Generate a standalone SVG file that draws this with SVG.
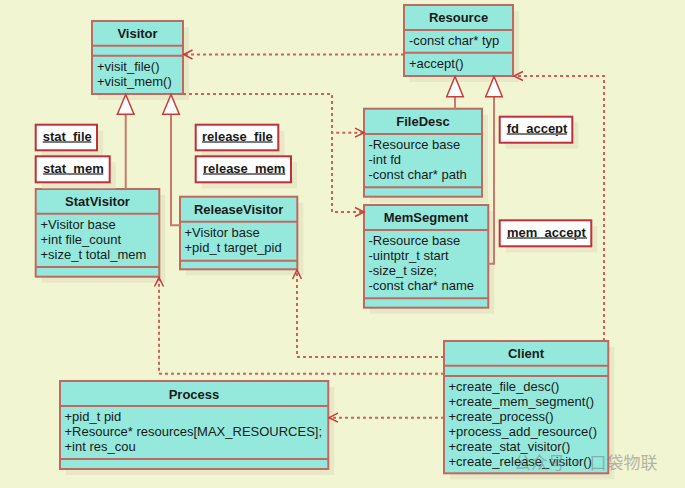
<svg xmlns="http://www.w3.org/2000/svg" width="685" height="488" viewBox="0 0 685 488">
<style>
.bg{fill:#f2f5d1}
.sh{fill:#e6e8c6}
.cls{fill:#94e9dc;stroke:#bd6a60;stroke-width:2}
.dv{stroke:#bd6a60;stroke-width:2}
.t{font-family:"Liberation Sans",Arial,sans-serif;font-size:13px;fill:#1a1a1a}
.b{font-weight:bold;text-anchor:middle}
.ob{font-weight:bold}
.obj{fill:#fff;stroke:#c0303a;stroke-width:2}
.ul{stroke:#7a7a7a;stroke-width:2}
.dep{fill:none;stroke:#d0605a;stroke-width:2;stroke-dasharray:3 3}
.gen{fill:none;stroke:#c87a6c;stroke-width:2}
.tri{fill:#fff;stroke:#c83c3c;stroke-width:1.5}
.wm{font-family:"Noto Sans CJK SC","Liberation Sans",sans-serif;font-size:17px;fill:#777;opacity:0.5}
</style>
<defs>
<marker id="open" viewBox="-11 -6 13 12" refX="0" refY="0" markerWidth="13" markerHeight="12" markerUnits="userSpaceOnUse" orient="auto">
<path d="M-9,-4.5 L0,0 L-9,4.5" fill="none" stroke="#c83c3c" stroke-width="1.5"/>
</marker>
</defs>
<rect class="bg" x="0" y="0" width="685" height="488"/>

<g id="Visitor">
<rect class="sh" x="98" y="27" width="91" height="73"/>
<rect class="cls" x="92" y="21" width="91" height="73"/>
<line class="dv" x1="92" y1="45.7" x2="183" y2="45.7"/>
<line class="dv" x1="92" y1="55.7" x2="183" y2="55.7"/>
<text class="t b" x="137.5" y="38">Visitor</text>
<text class="t" x="97" y="70.5">+visit_file()</text>
<text class="t" x="97" y="85.5">+visit_mem()</text>
</g>

<g id="Resource">
<rect class="sh" x="410" y="11" width="109" height="71"/>
<rect class="cls" x="404" y="5" width="109" height="71"/>
<line class="dv" x1="404" y1="30" x2="513" y2="30"/>
<line class="dv" x1="404" y1="52.7" x2="513" y2="52.7"/>
<text class="t b" x="458.5" y="22">Resource</text>
<text class="t" x="409" y="45">-const char* typ</text>
<text class="t" x="409" y="67.5">+accept()</text>
</g>

<g id="FileDesc">
<rect class="sh" x="370" y="114.7" width="118" height="88"/>
<rect class="cls" x="364" y="108.7" width="118" height="88"/>
<line class="dv" x1="364" y1="134" x2="482" y2="134"/>
<line class="dv" x1="364" y1="187.3" x2="482" y2="187.3"/>
<text class="t b" x="423" y="126">FileDesc</text>
<text class="t" x="368.5" y="148.5">-Resource base</text>
<text class="t" x="368.5" y="163.5">-int fd</text>
<text class="t" x="368.5" y="178.5">-const char* path</text>
</g>

<g id="MemSegment">
<rect class="sh" x="370" y="211" width="124.3" height="102.7"/>
<rect class="cls" x="364" y="205" width="124.3" height="102.7"/>
<line class="dv" x1="364" y1="230" x2="488.3" y2="230"/>
<line class="dv" x1="364" y1="298.3" x2="488.3" y2="298.3"/>
<text class="t b" x="426" y="222">MemSegment</text>
<text class="t" x="368.5" y="244.5">-Resource base</text>
<text class="t" x="368.5" y="259.5">-uintptr_t start</text>
<text class="t" x="368.5" y="274.5">-size_t size;</text>
<text class="t" x="368.5" y="289.5">-const char* name</text>
</g>

<g id="StatVisitor">
<rect class="sh" x="41.7" y="195" width="123.6" height="87.7"/>
<rect class="cls" x="35.7" y="189" width="123.6" height="87.7"/>
<line class="dv" x1="35.7" y1="213.7" x2="159.3" y2="213.7"/>
<line class="dv" x1="35.7" y1="267" x2="159.3" y2="267"/>
<text class="t b" x="97.5" y="206">StatVisitor</text>
<text class="t" x="40.5" y="228.5">+Visitor base</text>
<text class="t" x="40.5" y="243.5">+int file_count</text>
<text class="t" x="40.5" y="258.5">+size_t total_mem</text>
</g>

<g id="ReleaseVisitor">
<rect class="sh" x="186" y="202.7" width="117.3" height="72.6"/>
<rect class="cls" x="180" y="196.7" width="117.3" height="72.6"/>
<line class="dv" x1="180" y1="221.7" x2="297.3" y2="221.7"/>
<line class="dv" x1="180" y1="260.7" x2="297.3" y2="260.7"/>
<text class="t b" x="238.6" y="214">ReleaseVisitor</text>
<text class="t" x="184.5" y="236.5">+Visitor base</text>
<text class="t" x="184.5" y="251.5">+pid_t target_pid</text>
</g>

<g id="Client">
<rect class="sh" x="450" y="347" width="164.3" height="132.3"/>
<rect class="cls" x="444" y="341" width="164.3" height="132.3"/>
<line class="dv" x1="444" y1="365.7" x2="608.3" y2="365.7"/>
<line class="dv" x1="444" y1="376" x2="608.3" y2="376"/>
<text class="t b" x="526" y="358">Client</text>
<text class="t" x="448.5" y="390.5">+create_file_desc()</text>
<text class="t" x="448.5" y="405.5">+create_mem_segment()</text>
<text class="t" x="448.5" y="420.5">+create_process()</text>
<text class="t" x="448.5" y="435.5">+process_add_resource()</text>
<text class="t" x="448.5" y="450.5">+create_stat_visitor()</text>
<text class="t" x="448.5" y="465.5">+create_release_visitor()</text>
</g>

<g id="Process">
<rect class="sh" x="66" y="387" width="268.3" height="88"/>
<rect class="cls" x="60" y="381" width="268.3" height="88"/>
<line class="dv" x1="60" y1="406" x2="328.3" y2="406"/>
<line class="dv" x1="60" y1="459" x2="328.3" y2="459"/>
<text class="t b" x="194" y="398.5">Process</text>
<text class="t" x="64.5" y="420.5">+pid_t pid</text>
<text class="t" x="64.5" y="435.5">+Resource* resources[MAX_RESOURCES];</text>
<text class="t" x="64.5" y="450.5">+int res_cou</text>
</g>

<g id="stat_file">
<rect class="sh" x="41.7" y="130.7" width="61.3" height="25.6"/>
<rect class="obj" x="35.7" y="124.7" width="61.3" height="25.6"/>
<text class="t ob" x="42.7" y="140.5">stat_file</text>
<line class="ul" x1="42.7" y1="142" x2="91.3" y2="142"/>
</g>

<g id="stat_mem">
<rect class="sh" x="41.7" y="162.3" width="74" height="26"/>
<rect class="obj" x="35.7" y="156.3" width="74" height="26"/>
<text class="t ob" x="43" y="172.5">stat_mem</text>
<line class="ul" x1="43" y1="174" x2="103.3" y2="174"/>
</g>

<g id="release_file">
<rect class="sh" x="201.7" y="130.7" width="82.6" height="25.6"/>
<rect class="obj" x="195.7" y="124.7" width="82.6" height="25.6"/>
<text class="t ob" x="202" y="140.5">release_file</text>
<line class="ul" x1="202" y1="142" x2="272.7" y2="142"/>
</g>

<g id="release_mem">
<rect class="sh" x="201.7" y="162.3" width="95.3" height="26"/>
<rect class="obj" x="195.7" y="156.3" width="95.3" height="26"/>
<text class="t ob" x="203" y="172.5">release_mem</text>
<line class="ul" x1="203" y1="174" x2="285.3" y2="174"/>
</g>

<g id="fd_accept">
<rect class="sh" x="505.7" y="122.7" width="72.6" height="26"/>
<rect class="obj" x="499.7" y="116.7" width="72.6" height="26"/>
<text class="t ob" x="506.7" y="132.5">fd_accept</text>
<line class="ul" x1="506.7" y1="134" x2="567" y2="134"/>
</g>

<g id="mem_accept">
<rect class="sh" x="505.7" y="226.3" width="91.6" height="26"/>
<rect class="obj" x="499.7" y="220.3" width="91.6" height="26"/>
<text class="t ob" x="507" y="236.5">mem_accept</text>
<line class="ul" x1="507" y1="238" x2="587" y2="238"/>
</g>

<g id="connectors">
<path class="gen" d="M125.7,114.3 V189"/>
<polygon class="tri" points="125.7,94.5 117.4,114.3 134,114.3"/>
<path class="gen" d="M171,114.3 V225.3 H180"/>
<polygon class="tri" points="171,94.5 162.7,114.3 179.3,114.3"/>
<path class="gen" d="M455,96.7 V108.7"/>
<polygon class="tri" points="455,76.5 446.7,96.7 463.3,96.7"/>
<path class="gen" d="M494,96.7 V263.7 H488.3"/>
<polygon class="tri" points="494,76.5 485.7,96.7 502.3,96.7"/>

<path class="dep" d="M404,54.5 H183.5" marker-end="url(#open)"/>
<path class="dep" d="M183,94 H332 V132.7 H364" marker-end="url(#open)"/>
<path class="dep" d="M183,94 H332 V212 H364" marker-end="url(#open)"/>
<path class="dep" d="M604,341 V76 H514" marker-end="url(#open)"/>
<path class="dep" d="M444,373.7 H159 V277.5" marker-end="url(#open)"/>
<path class="dep" d="M444,357 H297 V270" marker-end="url(#open)"/>
<path class="dep" d="M444,417.7 H329" marker-end="url(#open)"/>
</g>

<text class="wm" x="514" y="469">公众号 · 口袋物联</text>
</svg>
